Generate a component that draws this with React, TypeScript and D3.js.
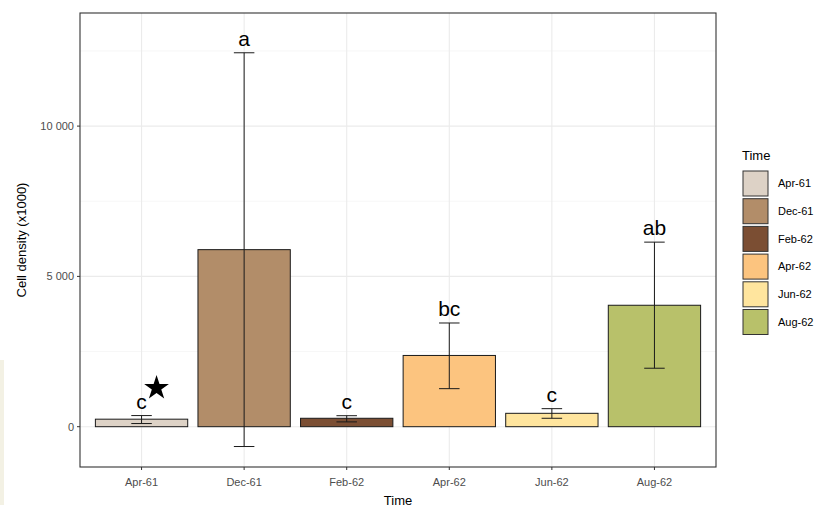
import React from "react";
import * as d3 from "d3";

const categories = ["Apr-61", "Dec-61", "Feb-62", "Apr-62", "Jun-62", "Aug-62"];
const means = [250, 5890, 280, 2370, 445, 4040];
const upper = [370, 12440, 366, 3450, 600, 6140];
const lower = [105, -660, 160, 1265, 280, 1945];
const letters = ["c", "a", "c", "bc", "c", "ab"];
const colors = ["#DDD2C6", "#B28D69", "#7B4E33", "#FCC47F", "#FFE59E", "#B8C16A"];
const majorTicks = [0, 5000, 10000];
const minorTicks = [2500, 7500, 12500];
const starValue = 1290;

const W = 822, H = 509;
const panel = { left: 80, top: 13, right: 716, bottom: 467 };
const font = "Liberation Sans, Arial, sans-serif";

export default function App() {
  const x = d3.scaleBand<string>().domain(categories).range([panel.left, panel.right]).paddingOuter(0.3).paddingInner(0);
  // step-based centering like ggplot discrete scale with 0.6 expansion
  const step = (panel.right - panel.left) / (categories.length - 1 + 1.2);
  const cx = (i: number) => panel.left + step * (0.6 + i);
  const y = d3.scaleLinear().domain([-1341, 13763]).range([panel.bottom, panel.top]);
  const barW = step * 0.9;
  const whisk = step * 0.1;
  const fmt = (v: number) => d3.format(",")(v).replace(/,/g, " ");
  const star = d3.symbol().type(d3.symbolStar).size(190)();

  return (
    <svg width={W} height={H} style={{ position: "absolute", left: 0, top: 0, fontFamily: font }}>
      <rect x={0} y={0} width={W} height={H} fill="#fff" />
      <rect x={0} y={360} width={4} height={145} fill="#f3f1e4" />
      {/* grid */}
      {minorTicks.map((t) => (
        <line key={"mn" + t} x1={panel.left} x2={panel.right} y1={y(t)} y2={y(t)} stroke="#f2f2f2" strokeWidth={0.6} />
      ))}
      {majorTicks.map((t) => (
        <line key={"mj" + t} x1={panel.left} x2={panel.right} y1={y(t)} y2={y(t)} stroke="#ebebeb" strokeWidth={1.1} />
      ))}
      {categories.map((c, i) => (
        <line key={"vg" + c} x1={cx(i)} x2={cx(i)} y1={panel.top} y2={panel.bottom} stroke="#ebebeb" strokeWidth={1.1} />
      ))}
      {/* bars */}
      {categories.map((c, i) => (
        <rect key={"b" + c} x={cx(i) - barW / 2} y={Math.min(y(means[i]), y(0))} width={barW}
          height={Math.abs(y(0) - y(means[i]))} fill={colors[i]} stroke="#1a1a1a" strokeWidth={1} />
      ))}
      {/* error bars */}
      {categories.map((c, i) => (
        <g key={"e" + c} stroke="#1a1a1a" strokeWidth={1}>
          <line x1={cx(i)} x2={cx(i)} y1={y(upper[i])} y2={y(lower[i])} />
          <line x1={cx(i) - whisk} x2={cx(i) + whisk} y1={y(upper[i])} y2={y(upper[i])} />
          <line x1={cx(i) - whisk} x2={cx(i) + whisk} y1={y(lower[i])} y2={y(lower[i])} />
        </g>
      ))}
      {/* letters */}
      {categories.map((c, i) => (
        <text key={"l" + c} x={cx(i)} y={y(upper[i]) - 7} textAnchor="middle" fontSize={21} fill="#000">{letters[i]}</text>
      ))}
      <path d={star ?? ""} transform={`translate(${cx(0) + 15},${y(starValue)})`} fill="#000" />
      {/* panel border */}
      <rect x={panel.left} y={panel.top} width={panel.right - panel.left} height={panel.bottom - panel.top} fill="none" stroke="#333" strokeWidth={1.1} />
      {/* y axis */}
      {majorTicks.map((t) => (
        <g key={"yt" + t}>
          <line x1={panel.left - 3} x2={panel.left} y1={y(t)} y2={y(t)} stroke="#333" strokeWidth={1} />
          <text x={panel.left - 6} y={y(t)} dy="0.35em" textAnchor="end" fontSize={11} fill="#4d4d4d">{fmt(t)}</text>
        </g>
      ))}
      {categories.map((c, i) => (
        <g key={"xt" + c}>
          <line x1={cx(i)} x2={cx(i)} y1={panel.bottom} y2={panel.bottom + 3} stroke="#333" strokeWidth={1} />
          <text x={cx(i)} y={panel.bottom + 19} textAnchor="middle" fontSize={11} fill="#4d4d4d">{c}</text>
        </g>
      ))}
      <text x={(panel.left + panel.right) / 2} y={505} textAnchor="middle" fontSize={13} fill="#000">Time</text>
      <text transform={`translate(26,${(panel.top + panel.bottom) / 2}) rotate(-90)`} textAnchor="middle" fontSize={13} fill="#000">Cell density (x1000)</text>
      {/* legend */}
      <text x={742} y={160} fontSize={13} fill="#000">Time</text>
      {categories.map((c, i) => (
        <g key={"lg" + c}>
          <rect x={743} y={171 + i * 27.7} width={25} height={25} fill={colors[i]} stroke="#333" strokeWidth={1} />
          <text x={778} y={171 + i * 27.7 + 12.5} dy="0.35em" fontSize={11} fill="#000">{c}</text>
        </g>
      ))}
    </svg>
  );
}
